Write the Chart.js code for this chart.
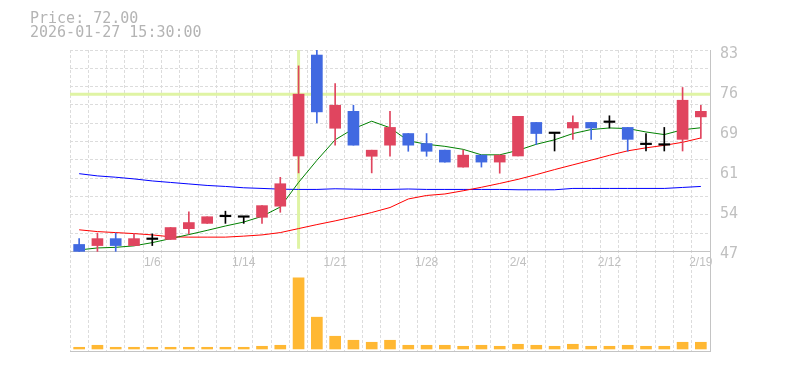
<!DOCTYPE html>
<html>
<head>
<meta charset="utf-8">
<script src="https://cdn.jsdelivr.net/npm/chart.js@4.4.0/dist/chart.umd.min.js"></script>
<style>
  html, body { margin: 0; padding: 0; background: #fff; }
  #wrap { position: relative; width: 785px; height: 370px; }
  #info { position: absolute; left: 30px; top: 11px; font: 15px/14px "DejaVu Sans Mono", monospace; color: #b4b4b4; white-space: pre; }
</style>
</head>
<body>
<div id="wrap">
  <canvas id="chart" width="785" height="370"></canvas>
  <div id="info">Price: 72.00
2026-01-27 15:30:00</div>
</div>
<script>
// trading days shown on the chart
const dates = ['12/26','12/29','12/30','1/5','1/6','1/7','1/8','1/9','1/13','1/14',
  '1/15','1/16','1/19','1/20','1/21','1/22','1/23','1/26','1/27','1/28',
  '1/29','1/30','2/2','2/3','2/4','2/5','2/6','2/9','2/10','2/12',
  '2/13','2/16','2/17','2/18','2/19'];
const shownDates = ['1/6','1/14','1/21','1/28','2/4','2/12','2/19'];

// open, high, low, close
const opens  = [48.3,48.1,49.35,48.1,49.2,49.2,51.15,52.1,53.3,53.2,53.2,55.2,64.25,82.45,69.25,72.3,64.2,66.2,68.3,66.5,65.3,62.25,64.4,63.15,64.25,70.3,68.3,69.3,70.3,70.3,69.4,66.3,66.2,67.25,71.3];
const highs  = [49.35,50.35,50.35,50.3,50.2,51.35,54.2,53.3,54.3,53.2,55.3,60.4,80.5,83.5,77.3,73.4,65.3,72.3,68.3,68.3,65.3,65.3,64.4,64.4,71.4,70.3,68.3,71.5,70.3,71.5,69.4,68.3,69.4,76.6,73.4];
const lows   = [47.05,47.05,47.05,48.1,48.1,49.2,50.2,52.1,52.1,52.1,52.1,54.1,61.2,70.2,66.2,66.2,61.2,64.2,65.1,64.2,63.15,62.25,62.25,61.15,64.25,66.3,65.15,67.25,67.25,69.3,65.1,65.15,65.15,65.15,67.4];
const closes = [47.05,49.35,48.1,49.35,49.2,51.35,52.25,53.3,53.3,53.2,55.3,59.25,75.4,72.2,73.4,66.2,65.3,69.4,66.2,65.1,63.15,64.4,63.15,64.4,71.4,68.3,68.3,70.3,69.3,70.3,67.25,66.3,66.2,74.3,72.3];

// moving averages
const ma5  = [47.31,47.67,47.78,48.05,48.63,49.35,50.08,50.84,51.63,52.34,53.37,55.05,59.48,63.46,67.17,69.16,70.52,69.34,67.0,66.36,65.99,65.45,64.46,64.46,65.27,66.36,67.17,68.29,69.02,69.3,69.2,68.58,68.11,68.98,69.34];
const ma25 = [50.94,50.62,50.44,50.26,50.02,49.68,49.62,49.62,49.62,49.8,50.02,50.44,51.16,51.88,52.55,53.28,54.06,54.96,56.5,57.13,57.4,57.98,58.61,59.3,60.04,60.89,61.8,62.65,63.5,64.37,65.18,65.72,66.17,66.72,67.5];
const ma75 = [61.06,60.66,60.42,60.12,59.75,59.48,59.21,58.94,58.76,58.52,58.4,58.27,58.22,58.22,58.34,58.27,58.22,58.22,58.3,58.22,58.22,58.22,58.22,58.22,58.16,58.16,58.16,58.4,58.4,58.4,58.4,58.4,58.4,58.58,58.76];

// volume (thousand shares)
const volumes = [17,37,17,17,17,17,17,17,17,17,27,37,710,317,127,87,67,87,37,37,37,27,37,27,47,37,27,47,27,27,37,27,27,67,67];

const priceTicks = [47, 54.2, 61.4, 68.6, 75.8, 83];
const crossIndex = 12;
const crossPrice = 75.4;

const UP = '#e0455f', DOWN = '#4169e1', DOJI = '#000000';
const GRID = '#dcdcdc', FRAME = '#c4c4c4';
const priceMin = 29.09, priceMax = 83.36, priceBottom = 47;

function candleColor(i) {
  if (opens[i] === closes[i]) return DOJI;
  return closes[i] > opens[i] ? UP : DOWN;
}

const crosshair = {
  id: 'crosshair',
  beforeDatasetsDraw(chart) {
    const {ctx, chartArea, scales} = chart;
    const x = scales.x.getPixelForValue(crossIndex);
    const y = scales.y.getPixelForValue(crossPrice);
    ctx.save();
    ctx.strokeStyle = '#dff4a4';
    ctx.lineWidth = 3;
    ctx.beginPath();
    ctx.moveTo(chartArea.left, y);
    ctx.lineTo(chartArea.right, y);
    ctx.moveTo(x, chartArea.top);
    ctx.lineTo(x, scales.y.getPixelForValue(priceBottom) - 3);
    ctx.stroke();
    ctx.restore();
  }
};

new Chart(document.getElementById('chart'), {
  data: {
    labels: dates,
    datasets: [
      {
        type: 'bar', order: 1, grouped: false, yAxisID: 'y',
        data: opens.map((o, i) => [o, closes[i]]),
        backgroundColor: dates.map((d, i) => candleColor(i)),
        barThickness: 11, minBarLength: 1.5
      },
      {
        type: 'bar', order: 2, grouped: false, yAxisID: 'y',
        data: lows.map((l, i) => [l, highs[i]]),
        backgroundColor: dates.map((d, i) => candleColor(i)),
        barThickness: 1
      },
      { type: 'line', order: 3, yAxisID: 'y', data: ma5, borderColor: '#008000', borderWidth: 1, pointRadius: 0, tension: 0 },
      { type: 'line', order: 3, yAxisID: 'y', data: ma25, borderColor: '#ff0000', borderWidth: 1, pointRadius: 0, tension: 0 },
      { type: 'line', order: 3, yAxisID: 'y', data: ma75, borderColor: '#0000ff', borderWidth: 1, pointRadius: 0, tension: 0 },
      {
        type: 'bar', order: 4, grouped: false, yAxisID: 'yv',
        data: volumes, backgroundColor: '#ffb833', barThickness: 11
      }
    ]
  },
  options: {
    responsive: false,
    animation: false,
    layout: { padding: { left: 70, top: 50, right: 0, bottom: 0 } },
    plugins: { legend: { display: false }, tooltip: { enabled: false } },
    scales: {
      x: {
        type: 'category', offset: true,
        position: { y: priceBottom },
        grid: { color: GRID, drawTicks: false, offset: true },
        border: { display: false, dash: [3, 2] },
        ticks: {
          autoSkip: false, maxRotation: 0, padding: 4, color: '#c0c0c0',
          font: { family: 'Liberation Sans', size: 12 },
          callback: (v, i) => shownDates.includes(dates[i]) ? dates[i] : ''
        },
        afterFit: s => { s.height = 20; }
      },
      y: {
        position: 'right', min: priceMin, max: priceMax,
        afterBuildTicks: s => { s.ticks = priceTicks.map(v => ({ value: v })); },
        grid: { drawOnChartArea: false, drawTicks: false },
        border: { display: true, color: FRAME },
        ticks: {
          padding: 10, color: '#c0c0c0', labelOffset: 2,
          font: { family: 'DejaVu Sans Mono', size: 15 },
          callback: v => String(Math.round(v))
        },
        afterFit: s => { s.width = 75; }
      },
      yg: {
        position: 'left', min: priceMin, max: priceMax,
        afterBuildTicks: s => {
          const t = [{ value: priceMin }];
          const step = (priceMax - priceBottom) / 11;
          for (let k = 0; k <= 11; k++) t.push({ value: priceBottom + k * step });
          s.ticks = t;
        },
        grid: {
          drawTicks: false,
          color: c => (c.index <= 1 ? FRAME : GRID)
        },
        border: { display: false, dash: c => (c.index <= 1 ? [] : [3, 2]) },
        ticks: { display: false },
        afterFit: s => { s.width = 0; }
      },
      yv: {
        display: false, min: -20, max: 2980
      }
    }
  },
  plugins: [crosshair]
});
</script>
</body>
</html>
